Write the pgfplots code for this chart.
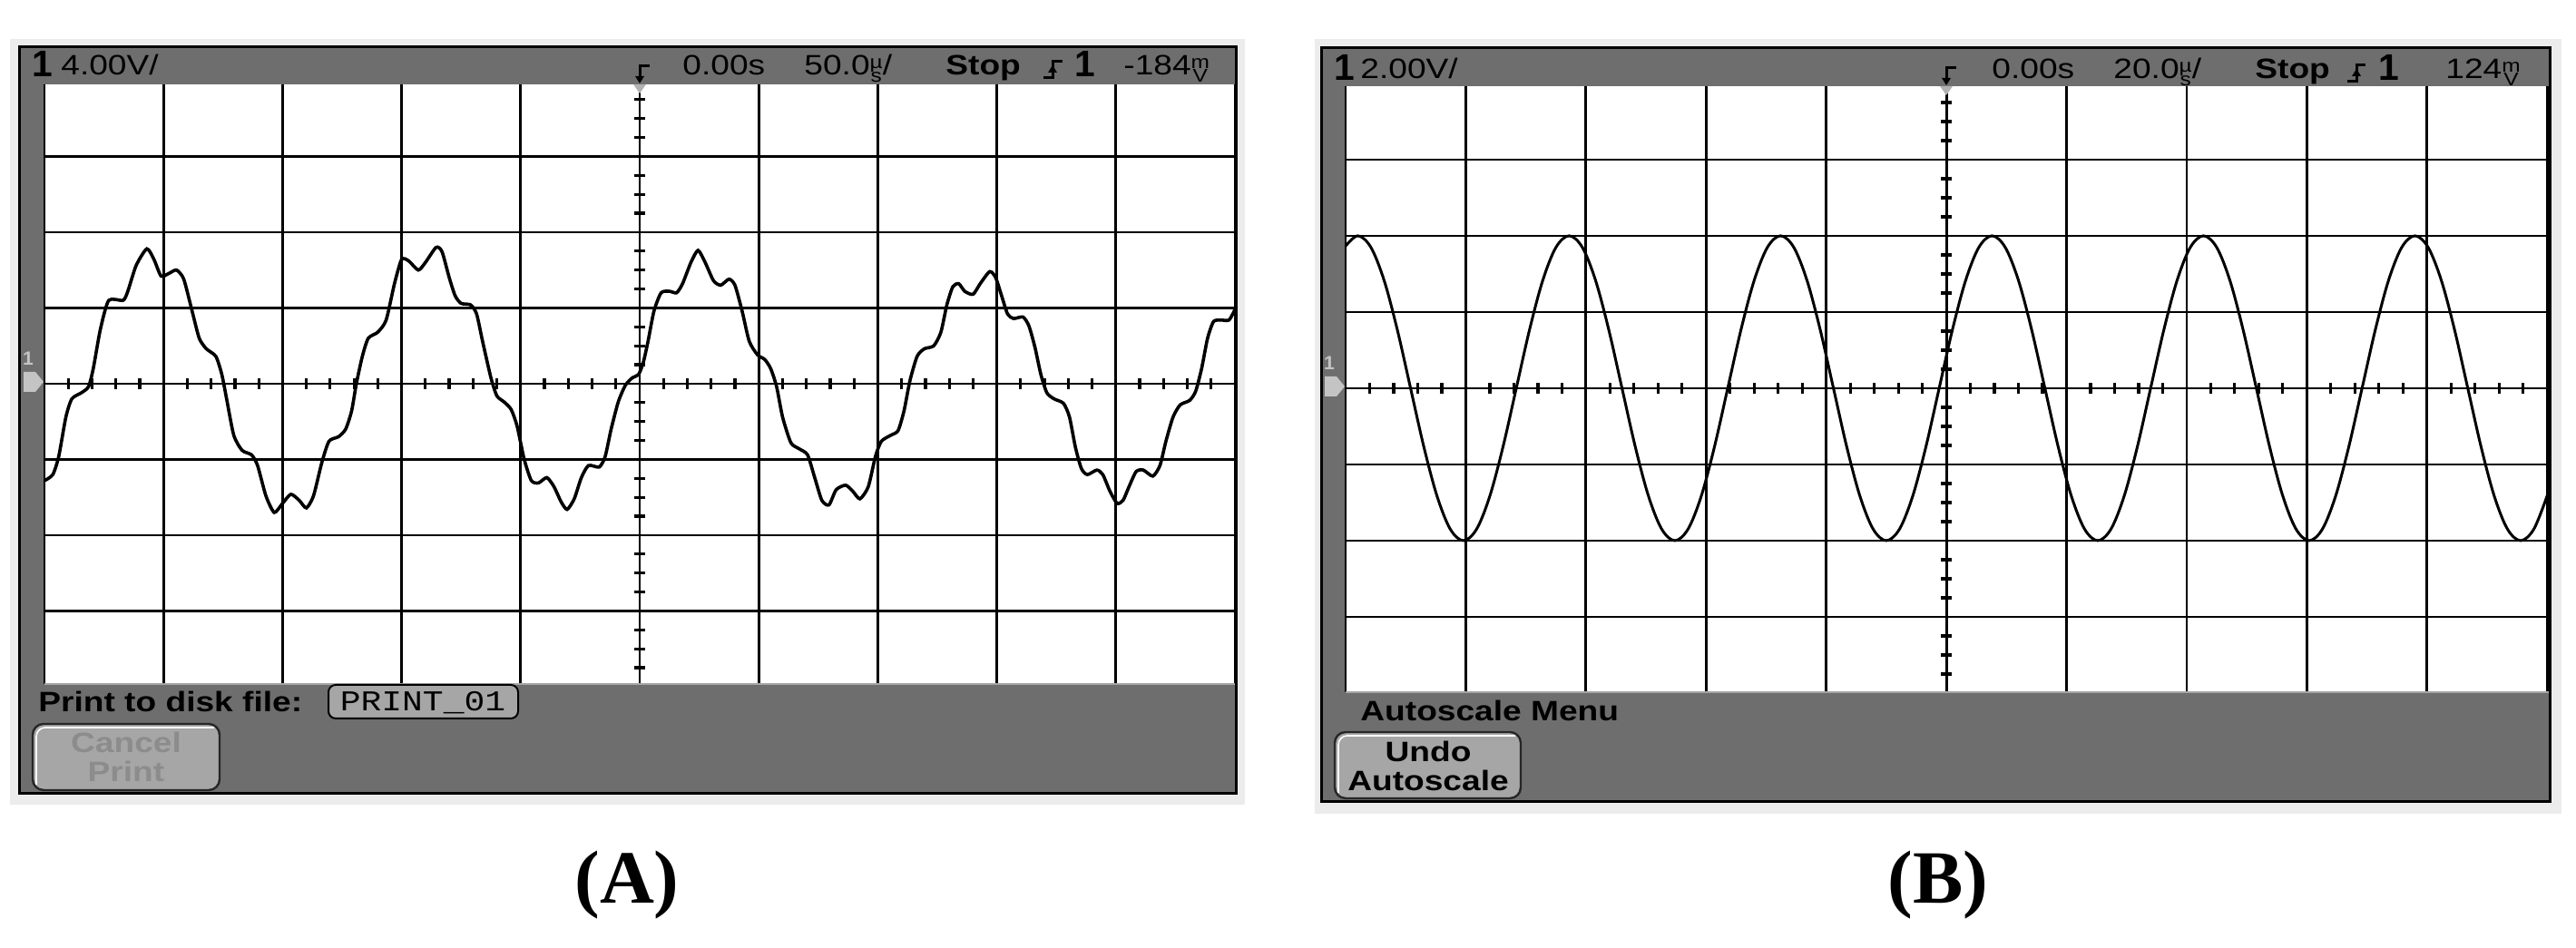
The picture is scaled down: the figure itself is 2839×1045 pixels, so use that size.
\documentclass[border=0pt]{standalone}
\usepackage{fontspec}
\setmainfont{Liberation Serif}
\newfontfamily\osc[FakeStretch=1.2]{Liberation Sans}
\newfontfamily\oscone{Liberation Sans}
\newfontfamily\oscmono[FakeStretch=1.2]{Liberation Mono}
\usepackage{pgfplots}
\pgfplotsset{compat=1.18}

\definecolor{bezel}{RGB}{110,110,110}
\definecolor{margin}{RGB}{236,236,236}
\definecolor{btn}{RGB}{166,166,166}
\definecolor{btntxt}{RGB}{140,140,140}
\definecolor{marker}{RGB}{196,196,196}

% scope fonts
\newcommand\hdr{\osc\fontsize{4.4}{5}\selectfont}
\newcommand\hdrb{\osc\bfseries\fontsize{4.4}{5}\selectfont}
\newcommand\bigone{{\oscone\bfseries\fontsize{5.8}{6}\selectfont 1}}
% unit letters stacked one over the other, as the scope draws them
\newcommand\stk[2]{{\fontsize{2.9}{3}\selectfont
  \setbox0\hbox{#1}\setbox2\hbox{#2}%
  \dimen0=\ifdim\wd0>\wd2 \wd0\else\wd2\fi
  \rlap{\hbox to\dimen0{\hss\raisebox{1.1pt}{#1}\hss}}%
  \hbox to\dimen0{\hss\raisebox{-1.1pt}{#2}\hss}}}

\pgfplotsset{
  screen/.style={
    scale only axis,
    axis lines=center,
    axis line style={-, black, line width=0.14mm},
    every inner x axis line/.append style={-},
    every inner y axis line/.append style={-},
    axis background/.style={fill=white},
    grid=major,
    major grid style={black, line width=0.14mm},
    minor x tick num=4, minor y tick num=3,
    tick align=center,
    major tick length=0pt, minor tick length=0.6mm,
    tick style={black, line width=0.16mm},
    xticklabels={}, yticklabels={},
  },
  trace/.style={black, line width=0.18mm, smooth, tension=0.4},
}

\begin{document}
\begin{tikzpicture}[x=0.05mm,y=0.05mm]
\useasboundingbox (0,0) rectangle (2839,1045);

% light margins and dark bezels
\fill[margin] (11,158) rectangle (1372,1002);
\fill[margin] (1449,148) rectangle (2823,1002);
\fill[bezel] (21,170) rectangle (1362,993);
\fill[bezel] (1456,161) rectangle (2810,992);

% (A) 4.00 V/div, 50 us/div
\begin{axis}[screen,
  at={(2.45mm,14.4mm)}, anchor=south west,
  width=65.6mm, height=33.4mm,
  xmin=-250, xmax=250, ymin=-16, ymax=16,
  xtick={-250,-200,...,250}, ytick={-16,-12,...,16}]
\addplot[trace] coordinates {
(-250,-5.12) (-246.5,-4.80) (-244,-3.84) (-241,-1.76) (-238.5,-0.80)
(-234.5,-0.48) (-231.5,-0.16) (-229.5,0.80) (-226.5,2.88) (-223,4.40)
(-217,4.40) (-215,4.88) (-211.5,6.24) (-207,7.12) (-204,6.56)
(-201,5.68) (-197.5,5.84) (-194.5,6.00) (-191.5,5.52) (-188,3.84)
(-185,2.40) (-182,1.84) (-178,1.44) (-175.5,0.48) (-173.5,-0.80)
(-170.5,-2.72) (-167,-3.52) (-163,-3.76) (-160.5,-4.32) (-157,-5.92)
(-153.5,-6.80) (-150,-6.32) (-146.5,-5.84) (-143,-6.16) (-140,-6.56)
(-137,-5.92) (-133.5,-4.16) (-130.5,-3.04) (-126.5,-2.80) (-123.5,-2.40)
(-121,-1.44) (-119,0.00) (-116.5,1.44) (-114,2.40) (-110,2.72)
(-106.5,3.36) (-103,5.28) (-100,6.56) (-97,6.48) (-93,6.00)
(-90,6.40) (-85.5,7.20) (-83,6.96) (-80,5.60) (-77.5,4.64)
(-75,4.24) (-71,4.16) (-68.5,3.68) (-66,2.24) (-62.5,0.32)
(-60,-0.64) (-57,-0.96) (-54,-1.36) (-51.5,-2.24) (-48.5,-4.00)
(-45.5,-5.12) (-42.5,-5.24) (-39,-4.96) (-36,-5.44) (-33,-6.24)
(-30.5,-6.64) (-27.5,-6.08) (-24.5,-4.96) (-21.5,-4.32) (-17,-4.40)
(-14.5,-3.84) (-12,-2.40) (-9,-0.96) (-6,-0.08) (-3,0.32)
(-0.5,0.48) (1.5,1.12) (3.5,2.24) (6,3.84) (9,4.80)
(12.5,4.88) (15.5,4.80) (18,5.28) (21.5,6.40) (24.5,7.04)
(27.5,6.40) (31,5.44) (34,5.20) (37.5,5.52) (40,5.20)
(43,3.84) (46,2.24) (49.5,1.52) (52.5,1.28) (55,0.80)
(57.5,-0.16) (60,-1.76) (63.5,-3.12) (67,-3.44) (70.5,-3.76)
(73.5,-4.96) (76.5,-6.16) (79.5,-6.40) (82.5,-5.60) (86.5,-5.36)
(89.5,-5.68) (92.5,-6.08) (96,-5.44) (99,-3.84) (101.5,-3.04)
(105.5,-2.72) (108.5,-2.48) (111,-1.44) (113.5,0.16) (116.5,1.44)
(119.5,1.84) (123.5,2.00) (126.5,2.72) (129,4.16) (131.5,5.12)
(134,5.28) (136.5,4.88) (140,4.72) (143,5.28) (147,5.92)
(149.5,5.60) (152,4.64) (154.5,3.68) (157,3.44) (161,3.52)
(163.5,3.04) (166,1.92) (168.5,0.48) (171,-0.48) (174,-0.80)
(178,-1.04) (180.5,-1.76) (183,-3.36) (185.5,-4.48) (188,-4.80)
(192,-4.56) (194.5,-4.80) (197.5,-5.68) (200.5,-6.32) (203,-6.16)
(205.5,-5.44) (208.5,-4.64) (211.5,-4.56) (215.5,-4.88) (218.5,-4.32)
(221,-3.04) (224,-1.76) (227,-1.12) (231,-0.88) (233.5,-0.40)
(236,0.80) (238.5,2.40) (241,3.28) (244,3.36) (247.5,3.36)
(250,3.92)
};
\end{axis}

% (B) 2.00 V/div, 20 us/div
\begin{axis}[screen,
  at={(74.15mm,14.05mm)}, anchor=south west,
  width=66.2mm, height=33.6mm,
  xmin=-100, xmax=100, ymin=-8, ymax=8,
  xtick={-100,-80,...,100}, ytick={-8,-6,...,8}]
\addplot[trace, line width=0.15mm, tension=0.55] coordinates {
(-100.2,3.696) (-98.0,4) (-95.8,3.696) (-93.6,2.828) (-91.4,1.531)
(-89.2,0) (-87.0,-1.531) (-84.8,-2.828) (-82.6,-3.696) (-80.4,-4)
(-78.2,-3.696) (-76.0,-2.828) (-73.8,-1.531) (-71.6,0) (-69.4,1.531)
(-67.2,2.828) (-65.0,3.696) (-62.8,4) (-60.6,3.696) (-58.4,2.828)
(-56.2,1.531) (-54.0,0) (-51.8,-1.531) (-49.6,-2.828) (-47.4,-3.696)
(-45.2,-4) (-43.0,-3.696) (-40.8,-2.828) (-38.6,-1.531) (-36.4,0)
(-34.2,1.531) (-32.0,2.828) (-29.8,3.696) (-27.6,4) (-25.4,3.696)
(-23.2,2.828) (-21.0,1.531) (-18.8,0) (-16.6,-1.531) (-14.4,-2.828)
(-12.2,-3.696) (-10.0,-4) (-7.8,-3.696) (-5.6,-2.828) (-3.4,-1.531)
(-1.2,0) (1.0,1.531) (3.2,2.828) (5.4,3.696) (7.6,4)
(9.8,3.696) (12.0,2.828) (14.2,1.531) (16.4,0) (18.6,-1.531)
(20.8,-2.828) (23.0,-3.696) (25.2,-4) (27.4,-3.696) (29.6,-2.828)
(31.8,-1.531) (34.0,0) (36.2,1.531) (38.4,2.828) (40.6,3.696)
(42.8,4) (45.0,3.696) (47.2,2.828) (49.4,1.531) (51.6,0)
(53.8,-1.531) (56.0,-2.828) (58.2,-3.696) (60.4,-4) (62.6,-3.696)
(64.8,-2.828) (67.0,-1.531) (69.2,0) (71.4,1.531) (73.6,2.828)
(75.8,3.696) (78.0,4) (80.2,3.696) (82.4,2.828) (84.6,1.531)
(86.8,0) (89.0,-1.531) (91.2,-2.828) (93.4,-3.696) (95.6,-4)
(97.8,-3.696) (100.0,-2.828)
};
\end{axis}

% header and softkey bars over the screen edges
\fill[bezel] (21,952) rectangle (1362,993);
\fill[bezel] (21,170) rectangle (1362,291);
\draw[black!35, line width=0.1mm] (49,291) -- (1362,291);
\fill[bezel] (1456,950) rectangle (2810,992);
\fill[bezel] (1456,161) rectangle (2810,282);
\draw[black!35, line width=0.1mm] (1483,282) -- (2810,282);
\draw[line width=0.15mm] (21,170) rectangle (1362,993);
\draw[line width=0.15mm] (1456,161) rectangle (2810,992);

% ground and trigger markers
\fill[marker] (26,635) -- (39,635) -- (48,624) -- (39,613) -- (26,613) -- cycle;
\node[inner sep=0, text=marker, font=\oscone\bfseries\fontsize{3}{3}\selectfont] at (31,650) {1};
\fill[marker] (1460,630) -- (1473,630) -- (1482,619) -- (1473,608) -- (1460,608) -- cycle;
\node[inner sep=0, text=marker, font=\oscone\bfseries\fontsize{3}{3}\selectfont] at (1465,645) {1};
\fill[black!30] (698,952) -- (712,952) -- (705,942) -- cycle;
\fill[black!30] (2138,950) -- (2152,950) -- (2145,940) -- cycle;

% trigger glyphs in the headers
\draw[line width=0.15mm] (716,972) -- (705,972) -- (705,957);
\fill (700,961) -- (710,961) -- (705,953) -- cycle;
\draw[line width=0.15mm] (2156,970) -- (2145,970) -- (2145,955);
\fill (2140,959) -- (2150,959) -- (2145,951) -- cycle;
\draw[line width=0.15mm] (1150,959) -- (1160,959) -- (1160,977) -- (1171,977);
\fill (1155,965) -- (1165,965) -- (1160,973) -- cycle;
\draw[line width=0.15mm] (2587,955) -- (2597,955) -- (2597,973) -- (2607,973);
\fill (2592,961) -- (2602,961) -- (2597,969) -- cycle;

% header texts (A)
\begin{scope}[every node/.style={anchor=base west, inner sep=0}]
\node at (34,960) {\bigone};
\node at (66,962) {\hdr 4.00V/};
\node at (751,962) {\hdr 0.00s};
\node at (885,962) {\hdr 50.0\stk{µ}{s}/};
\node at (1041,962) {\hdrb Stop};
\node at (1183,960) {\bigone};
\node at (1237,962) {\hdr -184\stk{m}{V}};
% header texts (B)
\node at (1469,956) {\bigone};
\node at (1498,958) {\hdr 2.00V/};
\node at (2194,958) {\hdr 0.00s};
\node at (2328,958) {\hdr 20.0\stk{µ}{s}/};
\node at (2484,958) {\hdrb Stop};
\node at (2620,956) {\bigone};
\node at (2694,958) {\hdr 124\stk{m}{V}};
% softkey texts
\node at (41,260) {\hdrb Print to disk file:};
\node at (1498,250) {\hdrb Autoscale Menu};
\end{scope}

% softkeys
\draw[fill=btn, rounded corners=0.4mm, line width=0.1mm] (362,253) rectangle (571,290);
\node[inner sep=0] at (466,270) {\oscmono\fontsize{4.5}{5}\selectfont PRINT\_01};
\draw[fill=btn, draw=black!85, rounded corners=0.6mm, line width=0.12mm] (36,174) rectangle (242,247);
\draw[white, line width=0.08mm, rounded corners=0.5mm] (40,180) -- (40,243) -- (236,243);
\node[inner sep=0, text=btntxt] at (139,227) {\hdrb Cancel};
\node[inner sep=0, text=btntxt] at (139,195) {\hdrb Print};
\draw[fill=btn, draw=black!85, rounded corners=0.6mm, line width=0.12mm] (1471,165) rectangle (1676,238);
\draw[white, line width=0.08mm, rounded corners=0.5mm] (1475,171) -- (1475,234) -- (1670,234);
\node[inner sep=0] at (1574,217) {\hdrb Undo};
\node[inner sep=0] at (1574,185) {\hdrb Autoscale};

% panel captions
\node[font=\bfseries\fontsize{11.8}{14}\selectfont] at (691,69) {(A)};
\node[font=\bfseries\fontsize{11.8}{14}\selectfont] at (2136,69) {(B)};
\end{tikzpicture}
\end{document}
